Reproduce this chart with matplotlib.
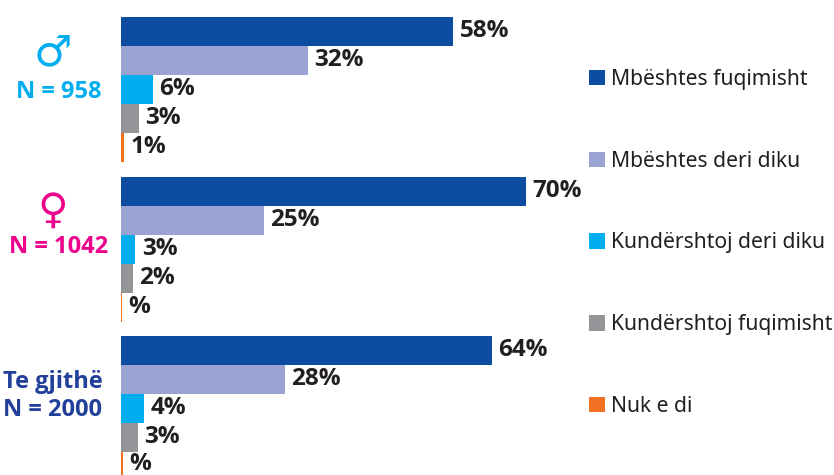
import matplotlib
matplotlib.use("Agg")
import matplotlib.pyplot as plt
from matplotlib.patches import Patch

W, H = 834, 475
PX_PER_PCT = 5.78
BAR_PX = 29.0
GROUP_STEP = 5.5

categories = ["Mbështes fuqimisht", "Mbështes deri diku", "Kundërshtoj deri diku",
              "Kundërshtoj fuqimisht", "Nuk e di"]
colors = ["#0D4DA1", "#9AA3D1", "#00AEEF", "#939598", "#F36F21"]

men_values = [57.5, 32.3, 5.6, 3.1, 0.5]
women_values = [70.1, 24.7, 2.5, 2.0, 0.2]
all_values = [64.2, 28.4, 4.0, 3.0, 0.4]
men_labels = ["58%", "32%", "6%", "3%", "1%"]
women_labels = ["70%", "25%", "3%", "2%", "%"]
all_labels = ["64%", "28%", "4%", "3%", "%"]

plt.rcParams["font.family"] = ["Open Sans", "DejaVu Sans"]

fig = plt.figure(figsize=(W / 100, H / 100), dpi=100)
ax = fig.add_axes([121 / W, 0, (W - 121) / W, 1])
ax.set_xlim(0, (W - 121) / PX_PER_PCT)
ax.set_ylim((H - 17) / BAR_PX - 0.5, -17 / BAR_PX - 0.5)
ax.axis("off")

groups = [(men_values, men_labels), (women_values, women_labels), (all_values, all_labels)]
for g, (vals, labs) in enumerate(groups):
    for i, (v, lab) in enumerate(zip(vals, labs)):
        y = g * GROUP_STEP + i
        ax.barh(y, v, height=1.0, color=colors[i], linewidth=0)
        # the last label sits against the figure's bottom edge
        dy = 2.0 if (g == 2 and i == 4) else 0.3
        ax.annotate(lab, (v, y), xytext=(4.5, dy), textcoords="offset points",
                    va="center", ha="left", fontsize=17.5, fontweight="bold",
                    color="#231F20", annotation_clip=False)

def side(x, y, s, c, size=17, **kw):
    fig.text(x / W, 1 - y / H, s, color=c, fontsize=size, fontweight="bold",
             ha="center", va="center", **kw)

side(59, 92, "N = 958", "#00AEEF")
side(59, 247, "N = 1042", "#EC008C")
side(53, 382, "Te gjithë", "#21409A")
side(53, 410, "N = 2000", "#21409A")
fig.text(53 / W, 1 - 54 / H, "\u2642", color="#00AEEF", fontsize=31, ha="center", va="center",
         family="DejaVu Sans")
fig.text(52.5 / W, 1 - 211 / H, "\u2640", color="#EC008C", fontsize=30, ha="center", va="center",
         family="DejaVu Sans")

handles = [Patch(facecolor=c, linewidth=0) for c in colors]
leg = fig.legend(handles, categories, loc="upper left",
                 bbox_to_anchor=(589 / W, 1 - 69 / H), bbox_transform=fig.transFigure,
                 frameon=False, labelcolor="#231F20",
                 prop={"family": "Noto Sans", "size": 15.2},
                 handlelength=0.76, handleheight=0.76, handletextpad=0.28,
                 labelspacing=2.875, borderpad=0, borderaxespad=0)

fig.savefig("out.png", dpi=100)
